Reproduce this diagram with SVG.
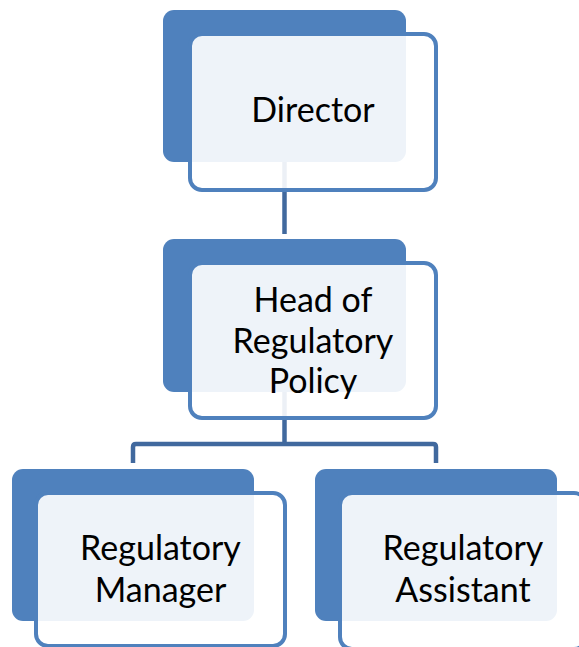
<svg xmlns="http://www.w3.org/2000/svg" width="579" height="647" viewBox="0 0 579 647">
<style>
.back{fill:#4f81bd;}
.front{fill:#ffffff;fill-opacity:0.9;stroke:#4f81bd;stroke-width:4;}
.conn{fill:none;stroke:#41699e;stroke-width:4.5;}
.lbl{font-family:Lato,"Liberation Sans",sans-serif;font-size:34px;fill:#000000;text-anchor:middle;}
</style>
<rect width="579" height="647" fill="#ffffff"/>
<g id="connectors">
<path class="conn" d="M284.5 160 V234"/>
<path class="conn" d="M284.5 390 V444"/>
<path class="conn" d="M133 463 V447 Q133 444 136 444 H433 Q436 444 436 447 V463"/>
</g>
<g id="director">
<rect class="back" x="163" y="10" width="243" height="152" rx="11"/>
<rect class="front" x="190" y="34" width="246" height="156" rx="12"/>
<text class="lbl" x="313" y="122">Director</text>
</g>
<g id="head">
<rect class="back" x="163" y="239" width="243" height="153" rx="11"/>
<rect class="front" x="190" y="263" width="246" height="155" rx="12"/>
<text class="lbl" x="313" y="312">Head of</text>
<text class="lbl" x="313" y="353">Regulatory</text>
<text class="lbl" x="313" y="393">Policy</text>
</g>
<g id="manager">
<rect class="back" x="12" y="469" width="242" height="152" rx="11"/>
<rect class="front" x="36" y="493" width="249" height="153" rx="12"/>
<text class="lbl" x="160.5" y="560">Regulatory</text>
<text class="lbl" x="160.5" y="602">Manager</text>
</g>
<g id="assistant">
<rect class="back" x="315" y="469" width="242" height="152" rx="11"/>
<rect class="front" x="340" y="493" width="246" height="156" rx="12"/>
<text class="lbl" x="463" y="560">Regulatory</text>
<text class="lbl" x="463" y="602">Assistant</text>
</g>
</svg>
